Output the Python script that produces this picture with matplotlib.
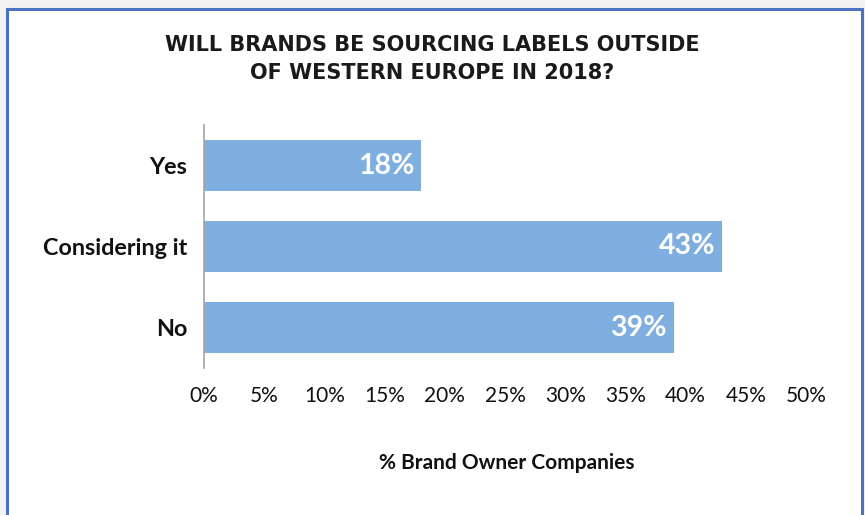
import matplotlib
matplotlib.use("Agg")
import matplotlib.pyplot as plt
from matplotlib.patches import Rectangle
from matplotlib.ticker import FuncFormatter

categories = ["Yes", "Considering it", "No"]
shares = [18, 43, 39]
xticks = [0, 5, 10, 15, 20, 25, 30, 35, 40, 45, 50]

title = "WILL BRANDS BE SOURCING LABELS OUTSIDE\nOF WESTERN EUROPE IN 2018?"
xlabel = "% Brand Owner Companies"

W, H = 865, 515
fig = plt.figure(figsize=(W / 100, H / 100), dpi=100, facecolor="#F3F3F3")

# white chart panel with blue frame (bottom edge runs off the canvas)
panel = Rectangle((7.5 / W, -0.05), (861.5 - 7.5) / W, (H - 8.5) / H + 0.05,
                  transform=fig.transFigure, facecolor="white",
                  edgecolor="#4A72C0", linewidth=2.2, zorder=-5)
fig.patches.append(panel)

ax = fig.add_axes([204 / W, (H - 368) / H, (806 - 204) / W, (368 - 125) / H])
ax.set_zorder(2)
ax.set_facecolor("none")

ypos = list(range(len(categories)))
ax.barh(ypos, shares, height=0.64, color="#7EAFE0", zorder=2)
ax.set_ylim(len(categories) - 0.5, -0.5)
ax.set_xlim(0, 50)

for y, v in zip(ypos, shares):
    ax.text(v - 0.55, y, f"{v}%", ha="right", va="center", color="white",
            fontsize=20.5, fontweight="bold", family="Lato", zorder=3)

ax.set_yticks(ypos)
ax.set_yticklabels(categories, fontsize=16.8, fontweight="bold", family="Lato")
ax.set_xticks(xticks)
ax.xaxis.set_major_formatter(FuncFormatter(lambda v, p: f"{v:.0f}%"))
for lbl in ax.get_xticklabels():
    lbl.set_family("Lato")
    lbl.set_fontsize(15)
ax.tick_params(axis="both", length=0, colors="#111111")
ax.tick_params(axis="x", pad=13)
ax.tick_params(axis="y", pad=12)

for s in ["top", "right", "bottom"]:
    ax.spines[s].set_visible(False)
ax.spines["left"].set_color("#A6A6A6")
ax.spines["left"].set_linewidth(1.2)

fig.text(507 / W, 1 - 463 / H, xlabel, ha="center", va="center",
         fontsize=15, fontweight="bold", family="Lato", color="#111111")
fig.text(432 / W, 1 - 59 / H, title, ha="center", va="center",
         fontsize=15, fontweight="bold", family="DejaVu Sans",
         color="#1A1A1A", linespacing=1.45)

fig.savefig("out.png", dpi=100, facecolor=fig.get_facecolor())
